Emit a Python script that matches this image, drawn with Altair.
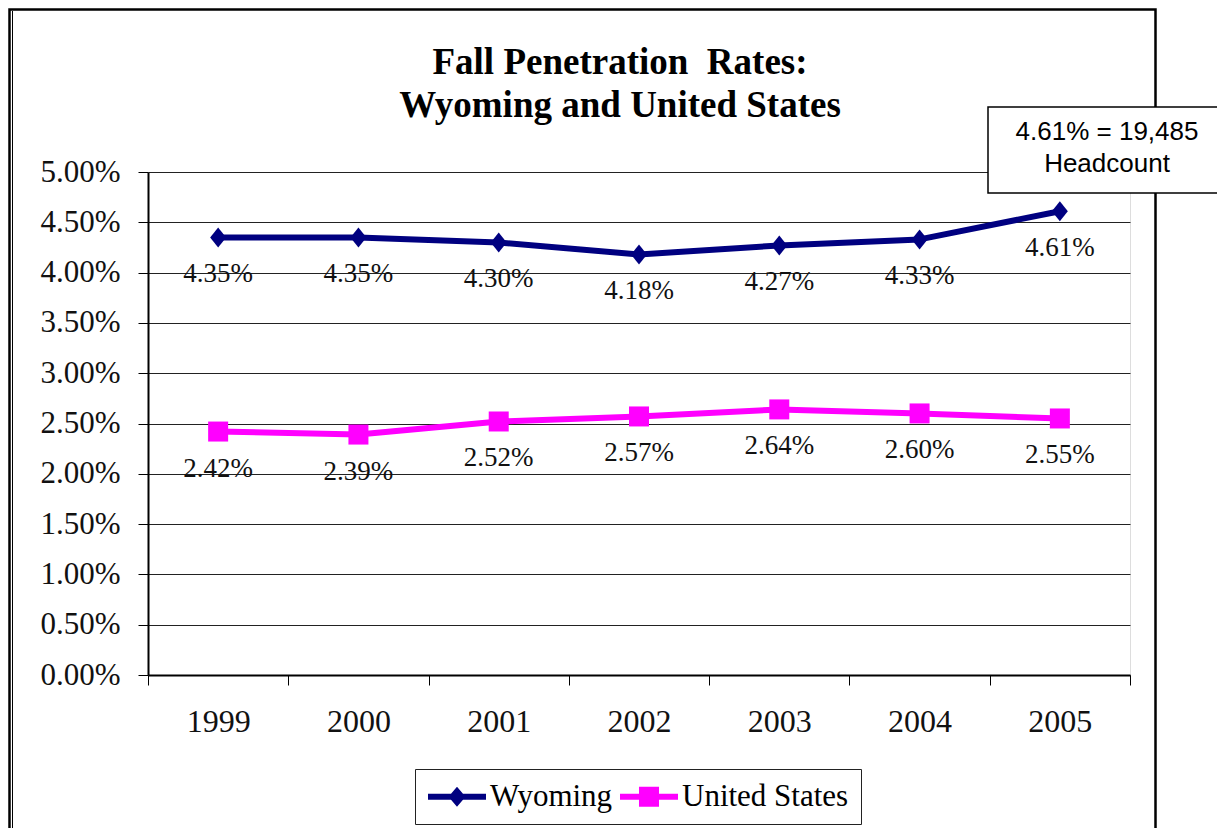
import altair as alt
import pandas as pd

# ---- data ----
years = ["1999", "2000", "2001", "2002", "2003", "2004", "2005"]
wyoming = [4.35, 4.35, 4.30, 4.18, 4.27, 4.33, 4.61]
united_states = [2.42, 2.39, 2.52, 2.57, 2.64, 2.60, 2.55]
series_names = ["Wyoming", "United States"]
series_colors = ["#000080", "#FF00FF"]
y_ticks = [0.0, 0.005, 0.01, 0.015, 0.02, 0.025, 0.03, 0.035, 0.04, 0.045, 0.05]
title_lines = ["Fall Penetration\u00a0 Rates:", "Wyoming and United States"]
note_lines = ["4.61% = 19,485", "Headcount"]

rows = []
for name, vals in zip(series_names, [wyoming, united_states]):
    for yr, v in zip(years, vals):
        rows.append({"year": yr, "series": name, "rate": v / 100.0})
df = pd.DataFrame(rows)

W, H = 982, 503
SERIF = "Liberation Serif"
SANS = "Liberation Sans"

x_enc = alt.X(
    "year:N", sort=years, bandPosition=0.5,
    scale=alt.Scale(type="band", paddingInner=0, paddingOuter=0),
    axis=alt.Axis(title=None, tickBand="extent", labelAngle=0, labelFont=SERIF,
                  labelFontSize=32, labelColor="#111", labelPadding=21, tickSize=10,
                  tickColor="black", tickWidth=1, domainColor="black", domainWidth=2,
                  grid=False),
)
y_enc = alt.Y(
    "rate:Q",
    scale=alt.Scale(domain=[0, 0.05], nice=False, zero=True),
    axis=alt.Axis(title=None, values=y_ticks, format=".2%", labelFont=SERIF,
                  labelFontSize=31, labelColor="#111", labelPadding=18, tickSize=10,
                  tickColor="black", tickWidth=1, domainColor="black", domainWidth=2,
                  grid=True, gridColor="#222", gridWidth=1),
)

diamond = "M0,-1L0.8,0L0,1L-0.8,0Z"
leg_wy = "M-1,-0.2L3,-0.2L3,0.2L-1,0.2Z M1,-0.69L1.59,0L1,0.69L0.41,0Z"
leg_us = "M-1,-0.2L3,-0.2L3,0.2L-1,0.2Z M0.31,-0.69L1.69,-0.69L1.69,0.69L0.31,0.69Z"

base = alt.Chart(df)

lines = base.mark_line(strokeWidth=6, strokeCap="round", strokeJoin="round").encode(
    x=x_enc, y=y_enc,
    stroke=alt.Stroke("series:N", scale=alt.Scale(domain=series_names, range=series_colors),
                      legend=None),
    detail="series:N",
)

points = base.mark_point(filled=True, opacity=1, size=400).encode(
    x=x_enc, y=y_enc,
    shape=alt.Shape("series:N", scale=alt.Scale(domain=series_names, range=[diamond, "square"]),
                    legend=None),
    color=alt.Color("series:N", scale=alt.Scale(domain=series_names, range=series_colors),
                    legend=None),
)


def make_legend():
    return alt.Legend(
        title=None, orient="none", legendX=267, legendY=597, direction="horizontal",
        labelFont=SERIF, labelFontSize=31, labelColor="black", labelLimit=400,
        labelOffset=32, symbolSize=841, symbolStrokeWidth=0, symbolOpacity=1,
        columnPadding=6, padding=12, strokeColor="#222", fillColor="white",
    )


legend_src = base.mark_point(filled=True, opacity=0, size=400).encode(
    x=x_enc, y=y_enc,
    shape=alt.Shape("series:N", scale=alt.Scale(domain=series_names, range=[leg_wy, leg_us]),
                    legend=make_legend()),
    color=alt.Color("series:N", scale=alt.Scale(domain=series_names, range=series_colors),
                    legend=make_legend()),
)

labels = base.mark_text(font=SERIF, fontSize=27, dy=37, baseline="middle",
                        align="center", color="#111").encode(
    x=x_enc, y=y_enc, text=alt.Text("rate:Q", format=".2%"),
)

one = pd.DataFrame({"k": [0]})

frame = alt.Chart(one).mark_rect(fillOpacity=0, stroke="black", strokeWidth=2.5).encode(
    x=alt.value(-138.5), x2=alt.value(1007.5), y=alt.value(-162.5), y2=alt.value(700)
)
inner = alt.Chart(one).mark_rule(stroke="black", strokeWidth=1).encode(
    x=alt.value(-135.5), y=alt.value(-161), y2=alt.value(700)
)
title = alt.Chart(one).mark_text(
    text=title_lines, font=SERIF, fontSize=37, fontWeight="bold", lineHeight=43,
    align="center", baseline="alphabetic", color="black"
).encode(x=alt.value(472), y=alt.value(-98.5))

note_box = alt.Chart(one).mark_rect(fill="white", stroke="black", strokeWidth=1.5).encode(
    x=alt.value(840), x2=alt.value(1075), y=alt.value(-65), y2=alt.value(21)
)
note_text = alt.Chart(one).mark_text(
    text=note_lines, font=SANS, fontSize=26, lineHeight=31.5,
    align="center", baseline="alphabetic", color="black"
).encode(x=alt.value(959), y=alt.value(-32))

chart = alt.layer(
    frame, inner, lines, points, legend_src, labels, title, note_box, note_text
).resolve_scale(
    shape="independent", color="independent"
).properties(
    width=W, height=H,
    padding={"left": 140, "top": 164, "right": 87, "bottom": 153},
    autosize=alt.AutoSizeParams(type="none"),
).configure_view(stroke="black", strokeWidth=2).configure(background="white")

chart.save("out.html", embed_options={"renderer": "svg", "actions": False})
